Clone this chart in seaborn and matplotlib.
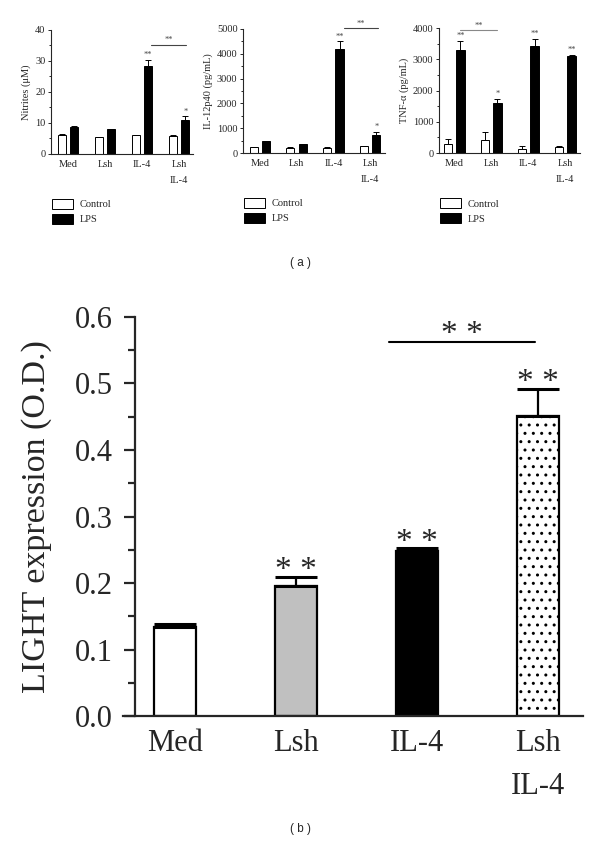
"""
Hinh 2 panel: (a) NO, IL-12p40, TNF-a theo nhom; (b) bieu hien LIGHT.
Chay: python plot.py -> out.png
"""

import matplotlib

matplotlib.use("Agg")
import matplotlib.pyplot as plt
import pandas as pd
import seaborn as sns
from matplotlib.ticker import MultipleLocator

# ---- du lieu doc tu hinh ----
groups = ["Med", "Lsh", "IL-4", "Lsh\nIL-4"]
treatments = ["Control", "LPS"]

nitrite_ctrl = [6.2, 5.5, 6.1, 5.9]
nitrite_ctrl_err = [0.2, 0.1, 0.1, 0.3]
nitrite_lps = [8.7, 8.0, 28.4, 10.9]
nitrite_lps_err = [0.3, 0.2, 2.0, 1.2]
nitrite_sig = ["", "", "**", "*"]

il12_ctrl = [230, 200, 215, 270]
il12_ctrl_err = [20, 30, 15, 20]
il12_lps = [470, 360, 4180, 740]
il12_lps_err = [20, 20, 330, 120]
il12_sig = ["", "", "**", "*"]

tnf_ctrl = [290, 430, 140, 180]
tnf_ctrl_err = [160, 230, 70, 40]
tnf_lps = [3290, 1600, 3430, 3090]
tnf_lps_err = [300, 130, 220, 60]
tnf_sig = ["**", "*", "**", "**"]

light_vals = [0.134, 0.195, 0.248, 0.451]
light_err = [0.004, 0.014, 0.004, 0.041]
light_sig = ["", "* *", "* *", "* *"]
light_colors = ["white", "#c0c0c0", "black", "white"]

sns.set_style("ticks")
plt.rcParams["font.family"] = ["Liberation Serif", "DejaVu Serif"]
plt.rcParams["hatch.linewidth"] = 1.0


def draw_top(ax, ctrl, ctrl_err, lps, lps_err, sig, ymax, ystep, ylabel,
             xlim, bracket):
    df = pd.DataFrame({"group": groups * 2,
                       "treatment": ["Control"] * 4 + ["LPS"] * 4,
                       "value": ctrl + lps})
    sns.barplot(data=df, x="group", y="value", hue="treatment", order=groups,
                hue_order=treatments,
                palette={"Control": "white", "LPS": "black"},
                edgecolor="black", linewidth=0.7, width=0.68, gap=0.34,
                errorbar=None, ax=ax)
    for cont, err in zip(ax.containers, [ctrl_err, lps_err]):
        xs = [p.get_x() + p.get_width() / 2 for p in cont]
        ys = [p.get_height() for p in cont]
        ax.errorbar(xs, ys, yerr=[[0] * len(err), err], fmt="none",
                    ecolor="black", elinewidth=0.7, capsize=2.5, capthick=0.7)
    # dau sao tren cot LPS
    for p, e, s in zip(ax.containers[1], lps_err, sig):
        if s:
            ax.text(p.get_x() + p.get_width() / 2, p.get_height() + e + ymax * 0.005,
                    s, ha="center", va="bottom", fontsize=6, color="#444444")
    x0, x1, yb, col = bracket
    ax.plot([x0, x1], [yb, yb], color=col, lw=0.8, clip_on=False)
    ax.text((x0 + x1) / 2, yb + ymax * 0.005, "**", ha="center", va="bottom",
            fontsize=6, color="#444444", clip_on=False)

    ax.set_xlim(*xlim)
    ax.set_ylim(0, ymax)
    ax.yaxis.set_major_locator(MultipleLocator(ystep))
    ax.yaxis.set_minor_locator(MultipleLocator(ystep / 2))
    ax.set_xlabel("")
    ax.set_ylabel(ylabel, fontsize=7.5, labelpad=3)
    ax.tick_params(axis="x", length=0, labelsize=7.5, pad=4)
    ax.tick_params(axis="y", which="major", length=2.5, width=0.7, labelsize=7.5, pad=1.5)
    ax.tick_params(axis="y", which="minor", length=1.5, width=0.7)
    for lab in ax.get_xticklabels():
        lab.set_linespacing(2.0)
        lab.set_va("top")
    for sp in ["left", "bottom"]:
        ax.spines[sp].set_linewidth(0.8)
    sns.despine(ax=ax)
    sns.move_legend(ax, "upper left", bbox_to_anchor=(0.01, -0.36),
                    frameon=False, title=None, fontsize=7.5, handlelength=2.0,
                    handleheight=1.1, labelspacing=0.45, borderaxespad=0,
                    borderpad=0, handletextpad=0.6)


fig = plt.figure(figsize=(6, 8.63), dpi=100)

ax1 = fig.add_axes([0.085, 0.8216, 0.2367, 0.1437])
draw_top(ax1, nitrite_ctrl, nitrite_ctrl_err, nitrite_lps, nitrite_lps_err,
         nitrite_sig, 40, 10, "Nitrites (\u03bcM)", (-0.46, 3.38),
         (2.24, 3.19, 35.2, "#444444"))

ax2 = fig.add_axes([0.405, 0.8227, 0.2362, 0.1437])
draw_top(ax2, il12_ctrl, il12_ctrl_err, il12_lps, il12_lps_err,
         il12_sig, 5000, 1000, "IL-12p40 (pg/mL)", (-0.46, 3.4),
         (2.29, 3.22, 5030, "#444444"))

ax3 = fig.add_axes([0.7317, 0.8227, 0.235, 0.1448])
draw_top(ax3, tnf_ctrl, tnf_ctrl_err, tnf_lps, tnf_lps_err,
         tnf_sig, 4000, 1000, "TNF-\u03b1 (pg/mL)", (-0.41, 3.4),
         (0.16, 1.16, 3925, "#888888"))

fig.text(0.5, 1 - 263 / 863, "( a )", ha="center", va="center",
         fontsize=8.5, family="Liberation Sans")

# ---- panel (b) ----
ax = fig.add_axes([0.205, 0.1703, 0.7667, 0.4624])
sns.barplot(x=groups, y=light_vals, hue=groups, palette=light_colors,
            legend=False, width=0.35, edgecolor="black", linewidth=1.6,
            errorbar=None, ax=ax)
bars = ax.patches[:4]
bars[3].set_hatch("..")
xs = [p.get_x() + p.get_width() / 2 for p in bars]
ax.errorbar(xs, light_vals, yerr=[[0] * 4, light_err], fmt="none",
            ecolor="black", elinewidth=1.6, capsize=15, capthick=2.2)
for x, v, e, s in zip(xs, light_vals, light_err, light_sig):
    if s:
        ax.text(x, v + e - 0.014, s, ha="center", va="bottom", fontsize=24)
ax.plot([1.77, 2.97], [0.5624, 0.5624], color="black", lw=1.5, clip_on=False)
ax.text(2.37, 0.55, "* *", ha="center", va="bottom", fontsize=24, clip_on=False)

ax.set_xlim(-0.43, 3.37)
ax.set_ylim(0, 0.6)
ax.spines["left"].set_position(("data", -0.33))
ax.spines["left"].set_bounds(0, 0.6)
for sp in ["left", "bottom"]:
    ax.spines[sp].set_linewidth(1.6)
sns.despine(ax=ax)
ax.yaxis.set_major_locator(MultipleLocator(0.1))
ax.yaxis.set_minor_locator(MultipleLocator(0.05))
ax.set_yticks([0, 0.1, 0.2, 0.3, 0.4, 0.5, 0.6])
ax.set_yticklabels(["0.0", "0.1", "0.2", "0.3", "0.4", "0.5", "0.6"])
ax.tick_params(axis="y", which="major", length=8, width=1.6, labelsize=22, pad=8)
ax.tick_params(axis="y", which="minor", length=5, width=1.6)
ax.tick_params(axis="x", length=0, labelsize=22, pad=9)
for lab in ax.get_xticklabels():
    lab.set_linespacing(1.65)
ax.set_ylabel("LIGHT expression (O.D.)", fontsize=24.5)
ax.yaxis.set_label_coords(-0.154, 0.5)

fig.text(0.5, 1 - 829 / 863, "( b )", ha="center", va="center",
         fontsize=8.5, family="Liberation Sans")

fig.savefig("out.png", dpi=100)
